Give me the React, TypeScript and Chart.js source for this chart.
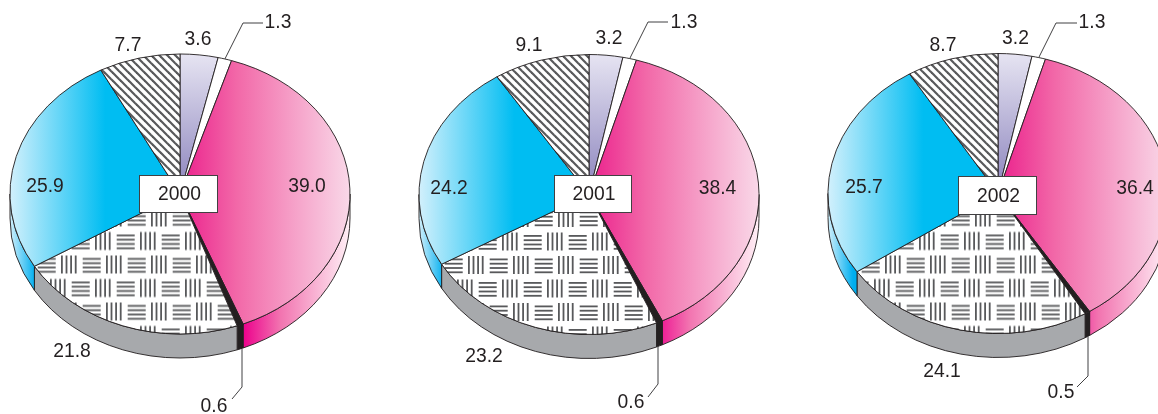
import React, { useEffect, useRef } from "react";
import Chart from "chart.js/auto";

// Slices run clockwise from 12 o'clock
const sliceKeys = ["lavender", "white", "pink", "black", "weave", "blue", "stripes"];
const years = ["2000", "2001", "2002"];
const values2000 = [3.6, 1.3, 39.0, 0.6, 21.8, 25.9, 7.7];
const values2001 = [3.2, 1.3, 38.4, 0.6, 23.2, 24.2, 9.1];
const values2002 = [3.2, 1.3, 36.4, 0.5, 24.1, 25.7, 8.7];
const seriesByYear = [values2000, values2001, values2002];

// ---- layout (page pixels), separate from the data ----
const FONT = '19.3px "Liberation Sans", Arial, sans-serif';
const INK = "#231F20";
const RX = 170;
const RY = 140;
const DEPTH = 24;
const SQUASH = RY / RX;
const CANVAS_H = 414;

type Layout = {
  left: number; width: number; cx: number; cy: number; phaseX: number; phaseY: number;
  box: [number, number, number, number];
  labels: [number, number][];
  upElbow: [number, number, number, number];
  downElbow: [number, number, number, number];
};

const layouts: Layout[] = [
  {
    left: 0, width: 395, cx: 180, cy: 194, phaseX: 61, phaseY: 255.5,
    box: [139, 175, 79, 38],
    labels: [[198, 39], [278, 22], [307, 186], [214, 406], [72, 351], [45, 186], [128, 45]],
    upElbow: [243, 23, 263, 23],
    downElbow: [242, 387, 232, 399],
  },
  {
    left: 395, width: 400, cx: 589, cy: 194.5, phaseX: 468, phaseY: 256,
    box: [554, 175, 78, 38],
    labels: [[609, 38], [684, 22], [717.5, 188], [631, 402], [484, 356], [449, 188], [529, 45]],
    upElbow: [648, 22, 668, 22],
    downElbow: [658, 384, 648, 397],
  },
  {
    left: 795, width: 400, cx: 998, cy: 193.5, phaseX: 885, phaseY: 255.5,
    box: [958, 176, 79, 39],
    labels: [[1015.5, 38], [1092, 22], [1135, 188], [1061, 392], [942, 371], [864, 187], [943, 45]],
    upElbow: [1056, 23, 1077, 23],
    downElbow: [1088, 376, 1077, 387],
  },
];

function makeWeave(ctx: CanvasRenderingContext2D, originX: number, originY: number, cy: number) {
  const tile = document.createElement("canvas");
  tile.width = 45;
  tile.height = 47;
  const t = tile.getContext("2d")!;
  t.fillStyle = "#fff";
  t.fillRect(0, 0, 45, 47);
  t.fillStyle = "#58595B";
  const block = (x: number, y: number) => {
    for (const ox of [-45, 0, 45]) {
      for (let i = 0; i < 4; i++) t.fillRect(x + ox + i * 4.6, y, 1.8, 18);
      for (let i = 0; i < 4; i++) t.fillRect(x + 21.7 + ox, y + 2.5 + i * 4.3, 18, 1.8);
    }
  };
  block(0, 0);
  block(-11, 23.5);
  const p = ctx.createPattern(tile, "repeat")!;
  p.setTransform(new DOMMatrix([1, 0, 0, 1 / SQUASH, originX, cy + (originY - cy) / SQUASH]));
  return p;
}

function makeStripes(ctx: CanvasRenderingContext2D, cy: number) {
  const tile = document.createElement("canvas");
  tile.width = 8;
  tile.height = 8;
  const t = tile.getContext("2d")!;
  t.fillStyle = "#fff";
  t.fillRect(0, 0, 8, 8);
  t.strokeStyle = "#58595B";
  t.lineWidth = 2.2;
  for (const o of [-8, 0, 8]) {
    t.beginPath();
    t.moveTo(o - 1, -1);
    t.lineTo(o + 9, 9);
    t.stroke();
  }
  const p = ctx.createPattern(tile, "repeat")!;
  p.setTransform(new DOMMatrix([1, 0, 0, 1 / SQUASH, 0, cy - cy / SQUASH]));
  return p;
}

function gradX(ctx: CanvasRenderingContext2D, x0: number, x1: number, stops: [number, string][]) {
  const g = ctx.createLinearGradient(x0, 0, x1, 0);
  stops.forEach(([o, c]) => g.addColorStop(o, c));
  return g;
}

function Pie({ index }: { index: number }) {
  const ref = useRef<HTMLCanvasElement | null>(null);
  const L = layouts[index];
  useEffect(() => {
    const canvas = ref.current!;
    const ctx = canvas.getContext("2d")!;
    const cx = L.cx - L.left;
    const cy = L.cy;
    const values = seriesByYear[index];

    const lav = ctx.createLinearGradient(0, cy - RX, 0, cy);
    lav.addColorStop(0, "#E6E4F2");
    lav.addColorStop(1, "#8A82BC");
    const pink = gradX(ctx, cx + 8, cx + RX, [
      [0, "#EC2A90"],
      [0.3, "#F268A8"],
      [1, "#F9D8E8"],
    ]);
    const blue = gradX(ctx, cx - RX, cx, [
      [0, "#D2F0FC"],
      [0.56, "#00BDF2"],
      [1, "#00BDF2"],
    ]);
    const fills = [
      lav,
      "#FFFFFF",
      pink,
      INK,
      makeWeave(ctx, L.phaseX - L.left, L.phaseY, cy),
      blue,
      makeStripes(ctx, cy),
    ];
    const walls = [
      "#FFFFFF",
      "#FFFFFF",
      gradX(ctx, cx + 63, cx + RX, [
        [0, "#EC008C"],
        [0.35, "#F274B0"],
        [1, "#FFF0F6"],
      ]),
      INK,
      "#A7A9AC",
      gradX(ctx, cx - RX, cx - 145, [
        [0, "#D2F0FC"],
        [1, "#00AEEF"],
      ]),
      "#FFFFFF",
    ];

    const drawText = (s: string, x: number, y: number) => {
      ctx.font = FONT;
      ctx.fillStyle = INK;
      ctx.textAlign = "center";
      ctx.textBaseline = "middle";
      ctx.fillText(s, x - L.left, y + 1);
    };

    const piePlugin = {
      id: "pieExtrude",
      beforeDatasetsDraw(chart: any) {
        const c = chart.ctx;
        const dy = DEPTH / SQUASH;
        c.save();
        c.translate(cx, cy);
        c.scale(1, SQUASH);
        c.translate(-cx, -cy);
        chart.getDatasetMeta(0).data.forEach((arc: any, i: number) => {
          const a0 = Math.max(arc.startAngle, 0);
          const a1 = Math.min(arc.endAngle, Math.PI);
          if (a1 <= a0) return;
          c.beginPath();
          c.arc(arc.x, arc.y, arc.outerRadius, a0, a1);
          c.arc(arc.x, arc.y + dy, arc.outerRadius, a1, a0, true);
          c.closePath();
          c.fillStyle = walls[i];
          c.fill();
          c.strokeStyle = INK;
          c.lineWidth = 1;
          c.stroke();
        });
      },
      afterDatasetsDraw(chart: any) {
        const c = chart.ctx;
        const arcs = chart.getDatasetMeta(0).data;
        c.restore();

        // leader lines, anchored on the slices they point to
        const rim = (arc: any, extra: number) => {
          const m = (arc.startAngle + arc.endAngle) / 2;
          return [
            arc.x + Math.cos(m) * arc.outerRadius,
            cy + Math.sin(m) * arc.outerRadius * SQUASH + extra,
          ];
        };
        c.strokeStyle = "#414042";
        c.lineWidth = 1;
        const up = rim(arcs[1], 0);
        c.beginPath();
        c.moveTo(up[0], up[1]);
        c.lineTo(L.upElbow[0] - L.left, L.upElbow[1]);
        c.lineTo(L.upElbow[2] - L.left, L.upElbow[3]);
        c.stroke();
        const down = rim(arcs[3], DEPTH);
        c.beginPath();
        c.moveTo(L.downElbow[0] - L.left, down[1]);
        c.lineTo(L.downElbow[0] - L.left, L.downElbow[1]);
        c.lineTo(L.downElbow[2] - L.left, L.downElbow[3]);
        c.stroke();

        // year box
        const [bx, by, bw, bh] = L.box;
        c.fillStyle = "#FFFFFF";
        c.strokeStyle = "#414042";
        c.lineWidth = 1;
        c.fillRect(bx - L.left, by, bw, bh);
        c.strokeRect(bx - L.left + 0.5, by + 0.5, bw - 1, bh - 1);
        drawText(years[index], bx + bw / 2 + 1, by + bh / 2);

        values.forEach((v, i) => drawText(v.toFixed(1), L.labels[i][0], L.labels[i][1]));
      },
    };

    const chart = new Chart(canvas, {
      type: "doughnut",
      data: {
        labels: sliceKeys,
        datasets: [
          {
            data: values,
            backgroundColor: fills as any,
            borderColor: INK,
            borderWidth: 1,
            hoverOffset: 0,
          },
        ],
      },
      options: {
        animation: false,
        responsive: false,
        devicePixelRatio: 1,
        cutout: 0,
        rotation: 0,
        events: [],
        layout: {
          padding: {
            left: cx - RX - 0.5,
            right: L.width - (cx + RX + 0.5),
            top: cy - RX - 0.5,
            bottom: CANVAS_H - (cy + RX + 0.5),
          },
        },
        plugins: { legend: { display: false }, tooltip: { enabled: false }, title: { display: false } },
      },
      plugins: [piePlugin],
    } as any);
    return () => chart.destroy();
  }, []);
  return (
    <canvas
      ref={ref}
      width={L.width}
      height={CANVAS_H}
      style={{ position: "absolute", left: L.left, top: 0, display: "block", width: L.width, height: CANVAS_H }}
    />
  );
}

export default function App() {
  return (
    <div style={{ position: "fixed", left: 0, top: 0, width: 1158, height: 414, overflow: "hidden", background: "#fff" }}>
      {years.map((_, i) => (
        <Pie key={i} index={i} />
      ))}
    </div>
  );
}
